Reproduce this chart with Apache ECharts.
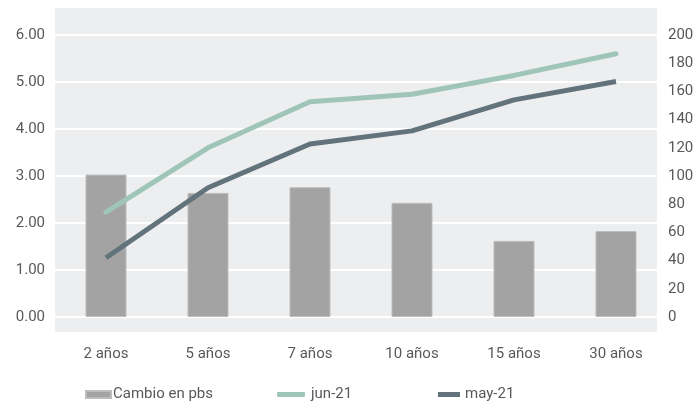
<!DOCTYPE html>
<html>
<head>
<meta charset="utf-8">
<script src="https://cdn.jsdelivr.net/npm/echarts@6/dist/echarts.min.js"></script>
<style>
  html, body { margin: 0; padding: 0; background: #ffffff; }
  #chart { width: 699px; height: 402px; }
</style>
</head>
<body>
<div id="chart"></div>
<script>
// Plazos de la curva
var categories = ['2 años', '5 años', '7 años', '10 años', '15 años', '30 años'];
// Cambio en puntos básicos (eje derecho)
var cambioPbs = [101, 88, 92, 81, 54, 61];
// Tasas (%) por fecha (eje izquierdo)
var jun21 = [2.23, 3.60, 4.58, 4.74, 5.14, 5.60];
var may21 = [1.26, 2.75, 3.68, 3.96, 4.62, 5.01];

var textColor = '#595959';
var fontFamily = 'Roboto, "Noto Sans", sans-serif';

var chart = echarts.init(document.getElementById('chart'));

chart.setOption({
  animation: false,
  backgroundColor: '#ffffff',
  textStyle: { fontFamily: fontFamily },
  graphic: [{
    type: 'rect',
    z: -10,
    left: 55, top: 8,
    shape: { width: 602, height: 324 },
    style: { fill: '#edeef0' },
    silent: true
  }],
  grid: [
    { left: 55, width: 602, top: 35, height: 282 },
    { left: 55, width: 612, top: 35, height: 282 }
  ],
  legend: [
    {
      data: ['Cambio en pbs'], left: 85, top: 387, padding: 0,
      icon: 'rect', itemWidth: 25, itemHeight: 7,
      textStyle: { color: textColor, fontSize: 15, fontFamily: fontFamily, padding: [0, 0, 0, -3] }
    },
    {
      data: ['jun-21'], left: 277, top: 387, padding: 0,
      icon: 'roundRect', itemWidth: 28, itemHeight: 5,
      textStyle: { color: textColor, fontSize: 15, fontFamily: fontFamily, padding: [0, 0, 0, 1] }
    },
    {
      data: ['may-21'], left: 438, top: 387, padding: 0,
      icon: 'rect', itemWidth: 22, itemHeight: 5,
      textStyle: { color: textColor, fontSize: 15, fontFamily: fontFamily, padding: [0, 0, 0, 0] }
    }
  ],
  xAxis: [
    {
      gridIndex: 0, type: 'category', data: categories, show: false
    },
    {
      gridIndex: 1, type: 'category', data: categories,
      axisLine: { show: false }, axisTick: { show: false },
      axisLabel: { color: textColor, fontSize: 15, fontFamily: fontFamily, margin: 30 }
    }
  ],
  yAxis: [
    {
      gridIndex: 0, type: 'value', position: 'left', min: 0, max: 6, interval: 1,
      axisLine: { show: false }, axisTick: { show: false },
      splitLine: { show: true, lineStyle: { color: '#ffffff', width: 2 } },
      axisLabel: {
        color: textColor, fontSize: 15, fontFamily: fontFamily, margin: 10,
        padding: [0, 0, 10, 0],
        formatter: function (v) { return v.toFixed(2); }
      }
    },
    {
      gridIndex: 0, type: 'value', position: 'right', min: 0, max: 200, interval: 20,
      axisLine: { show: false }, axisTick: { show: false },
      splitLine: { show: false },
      axisLabel: {
        color: textColor, fontSize: 15, fontFamily: fontFamily, margin: 11,
        padding: [0, 0, 8, 0]
      }
    },
    { gridIndex: 1, type: 'value', min: 0, max: 6, show: false, splitLine: { show: false } },
    { gridIndex: 1, type: 'value', min: 0, max: 200, show: false, splitLine: { show: false } }
  ],
  series: [
    {
      name: 'Cambio en pbs', type: 'bar', xAxisIndex: 1, yAxisIndex: 3,
      data: cambioPbs, barWidth: 41,
      itemStyle: { color: '#a3a3a3', borderColor: '#bdbdbd', borderWidth: 1 }
    },
    {
      name: 'jun-21', type: 'line', xAxisIndex: 1, yAxisIndex: 2,
      data: jun21, symbol: 'none', color: '#9fc5b8',
      lineStyle: { color: '#9fc5b8', width: 5, cap: 'round' }
    },
    {
      name: 'may-21', type: 'line', xAxisIndex: 1, yAxisIndex: 2,
      data: may21, symbol: 'none', color: '#63737b',
      lineStyle: { color: '#63737b', width: 5 }
    }
  ]
});
</script>
</body>
</html>
